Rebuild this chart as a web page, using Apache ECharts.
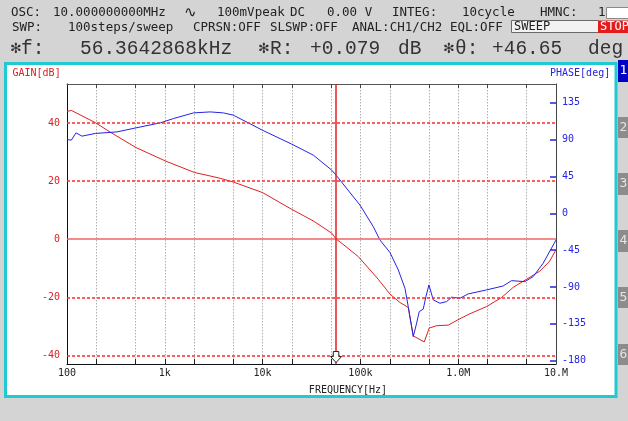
<!DOCTYPE html>
<html>
<head>
<meta charset="utf-8">
<script src="https://cdn.jsdelivr.net/npm/echarts@6/dist/echarts.min.js"></script>
<style>
  html, body { margin: 0; padding: 0; background: #d4d4d4; }
  #chart { width: 628px; height: 421px; }
</style>
</head>
<body>
<div id="chart"></div>
<script>
// Cursor readout
const cursorFreq = 56364.2868;
const cursorGain = 0.079;
const cursorPhase = 46.65;

// Gain trace (CH1/CH2), frequency in Hz and gain in dB
const gainFreq = [100, 110.6, 194.6, 276.9, 506.8, 1009, 2011, 2909, 3681, 5031, 9954, 19880, 33030, 50900,
  cursorFreq, 61890, 95170, 152300, 200650, 253800, 308500, 347100, 449500, 505500, 601700, 790500,
  1.041e6, 1.295e6, 1.951e6, 2.775e6, 3.646e6, 4.996e6, 6.831e6, 8.644e6, 1e7];
const gainDb = [44.0, 44.4, 40.2, 36.9, 31.6, 27.0, 23.0, 21.8, 21.0, 19.7, 16.1, 10.3, 6.3, 2.1,
  cursorGain, -0.9, -6.0, -13.8, -18.9, -21.8, -23.5, -33.3, -35.4, -30.6, -29.8, -29.6,
  -27.4, -25.8, -23.2, -20.1, -16.6, -13.8, -11.0, -7.5, -3.6];

// Phase trace, frequency in Hz and phase in degrees
const phaseFreq = [100, 110.6, 123.6, 142.3, 194.6, 324.2, 506.8, 897.5, 1227, 1965, 2909, 3977, 5031,
  9954, 19880, 33030, 50900, cursorFreq, 99060, 135470, 158560, 200650, 243900, 285500, 308500,
  347100, 376000, 399700, 439000, 467700, 502000, 555400, 650300, 761300, 856300, 1.041e6,
  1.265e6, 1.951e6, 2.883e6, 3.512e6, 4.8e6, 5.836e6, 7.385e6, 1e7];
const phaseDeg = [90.2, 89.4, 98.3, 94.3, 97.6, 99.5, 104.4, 110.5, 115.8, 122.7, 123.9, 122.7, 119.9,
  101.6, 84.5, 71.1, 52.8, cursorPhase, 10.1, -16.3, -32.6, -47.8, -69.1, -91.5, -113.9,
  -150.5, -134, -120, -117, -101.7, -87.4, -105.7, -109.8, -107.8, -102.4, -103.7,
  -98.4, -93.5, -88.7, -82.2, -83.4, -77.3, -61.0, -32.6];

// Axis ticks and labels
const freqLabelValues = [100, 1e3, 1e4, 1e5, 1e6, 1e7];
const freqLabelText = ['100', '1k', '10k', '100k', '1.0M', '10.M'];
const freqGridValues = [200, 500, 1e3, 2e3, 5e3, 1e4, 2e4, 5e4, 1e5, 2e5, 5e5, 1e6, 2e6, 5e6];
const gainTicks = [-40, -20, 0, 20, 40];
const gainDashed = [-40, -20, 20, 40];
const phaseTicks = [-180, -135, -90, -45, 0, 45, 90, 135];

const RED = '#e02020';
const BLUE = '#2424e4';
const MONO = 'DejaVu Sans Mono';

function txt(text, x, y, opts) {
  opts = opts || {};
  return {
    type: 'text', x: x, y: y, z: 10, silent: true,
    style: {
      text: text,
      fill: opts.fill || '#222',
      font: (opts.size || 12.5) + 'px "' + (opts.family || MONO) + '"',
      textAlign: opts.align || 'left',
      textVerticalAlign: 'middle'
    }
  };
}
function box(x, y, w, h, fill, stroke, z) {
  return {
    type: 'rect', z: z == null ? 1 : z, silent: true,
    shape: { x: x, y: y, width: w, height: h },
    style: { fill: fill, stroke: stroke || null, lineWidth: stroke ? 1 : 0 }
  };
}

const L3 = 19.5;  // readout line font size
const L3C = '#333';
const graphics = [
  // white panel with cyan frame
  { type: 'rect', z: -5, silent: true,
    shape: { x: 5.5, y: 63.5, width: 610.5, height: 333 },
    style: { fill: '#ffffff', stroke: '#1fcad2', lineWidth: 3 } },

  // status line 1
  txt('OSC:', 11, 13), txt('10.000000000MHz', 53, 13),
  txt('\u223F', 184, 13, { family: 'DejaVu Sans', size: 15 }),
  txt('100mVpeak', 217, 13), txt('DC', 290, 13), txt('0.00 V', 327, 13),
  txt('INTEG:', 392, 13), txt('10cycle', 462, 13), txt('HMNC:', 540, 13), txt('1', 598, 13),
  box(606.5, 7.5, 24, 11, '#ffffff', '#8a8a8a'),

  // status line 2
  txt('SWP:', 12, 27.5), txt('100steps/sweep', 68, 27.5), txt('CPRSN:OFF', 193, 27.5),
  txt('SLSWP:OFF', 270, 27.5), txt('ANAL:CH1/CH2', 352, 27.5), txt('EQL:OFF', 450, 27.5),
  box(511.5, 20.5, 87, 12, '#f2f2f2', '#6a6a6a'),
  txt('SWEEP', 514, 27, { size: 12 }),
  box(598, 20.5, 30, 12.5, '#e41c1c'),
  txt('STOP', 600, 27, { fill: '#ffffff', size: 12 }),

  // cursor readout line
  txt('\u273B', 10, 49, { family: 'DejaVu Sans', size: 14, fill: L3C }),
  txt('f:', 21, 49, { family: 'Liberation Mono', size: L3, fill: L3C }),
  txt('56.3642868kHz', 80, 49, { family: 'Liberation Mono', size: L3, fill: L3C }),
  txt('\u273B', 258, 49, { family: 'DejaVu Sans', size: 14, fill: L3C }),
  txt('R:', 270, 49, { family: 'Liberation Mono', size: L3, fill: L3C }),
  txt('+0.079', 310, 49, { family: 'Liberation Mono', size: L3, fill: L3C }),
  txt('dB', 398, 49, { family: 'Liberation Mono', size: L3, fill: L3C }),
  txt('\u273B', 443, 49, { family: 'DejaVu Sans', size: 14, fill: L3C }),
  txt('\u03B8:', 455, 49, { family: 'Liberation Mono', size: L3, fill: L3C }),
  txt('+46.65', 492, 49, { family: 'Liberation Mono', size: L3, fill: L3C }),
  txt('deg', 588, 49, { family: 'Liberation Mono', size: L3, fill: L3C }),

  // axis titles
  txt('GAIN[dB]', 12.5, 73, { fill: RED, size: 10 }),
  txt('PHASE[deg]', 550, 73, { fill: BLUE, size: 10 }),
  txt('FREQUENCY[Hz]', 348, 390, { size: 10, align: 'center' }),

  // page tabs
  box(618, 60, 10, 22, '#0000c4'), txt('1', 619.5, 71, { fill: '#ffffff', size: 13 }),
  box(618, 117, 10, 21, '#8c8c8c'), txt('2', 619.5, 127.5, { fill: '#e4e4e4', size: 13 }),
  box(618, 173, 10, 22, '#8c8c8c'), txt('3', 619.5, 184, { fill: '#e4e4e4', size: 13 }),
  box(618, 230, 10, 22, '#8c8c8c'), txt('4', 619.5, 241, { fill: '#e4e4e4', size: 13 }),
  box(618, 287, 10, 21, '#8c8c8c'), txt('5', 619.5, 297.5, { fill: '#e4e4e4', size: 13 }),
  box(618, 344, 10, 21, '#8c8c8c'), txt('6', 619.5, 354.5, { fill: '#e4e4e4', size: 13 })
];

const chart = echarts.init(document.getElementById('chart'), null, { renderer: 'canvas' });

const xBase = {
  type: 'log', logBase: 10, min: 100, max: 1e7, gridIndex: 0
};

// gain reference lines: dashed at +-20/+-40, solid at 0, plus the cursor
const gainLines = gainDashed.map(v => ({
  yAxis: v, lineStyle: { color: '#ff2a2a', width: 1.5, type: [3, 2] }
})).concat([
  { yAxis: 0, lineStyle: { color: '#ee6464', width: 1.5, type: 'solid' } },
  { xAxis: cursorFreq, lineStyle: { color: RED, width: 1.5, type: 'solid' } }
]);

chart.setOption({
  animation: false,
  backgroundColor: '#d4d4d4',
  graphic: { elements: graphics },
  grid: { left: 67, right: 72, top: 84, bottom: 57, containLabel: false },
  xAxis: [
    Object.assign({}, xBase, {
      position: 'bottom',
      axisLine: { show: true, onZero: false, lineStyle: { color: '#111', width: 1 } },
      axisTick: { show: true, inside: true, length: 5, customValues: freqGridValues,
        lineStyle: { color: '#222', width: 1 } },
      axisLabel: {
        show: true, customValues: freqLabelValues, margin: 4,
        color: '#222', fontFamily: MONO, fontSize: 10,
        formatter: function (v) {
          const i = freqLabelValues.indexOf(Math.round(v));
          return i >= 0 ? freqLabelText[i] : '';
        }
      },
      splitLine: { show: true, lineStyle: { color: '#b0b0b0', width: 1, type: [1.5, 1.5] } }
    }),
    Object.assign({}, xBase, {
      position: 'top',
      axisLine: { show: true, onZero: false, lineStyle: { color: '#555', width: 1 } },
      axisTick: { show: true, inside: true, length: 4, customValues: freqGridValues,
        lineStyle: { color: '#444', width: 1 } },
      axisLabel: { show: false },
      splitLine: { show: false }
    })
  ],
  yAxis: [
    {
      type: 'value', min: -43, max: 53.5, position: 'left',
      axisLine: { show: true, onZero: false, lineStyle: { color: '#111', width: 1 } },
      axisTick: { show: false, customValues: gainTicks },
      axisLabel: { customValues: gainTicks, margin: 7, color: RED, fontFamily: MONO, fontSize: 10 },
      splitLine: { show: false }
    },
    {
      type: 'value', min: -184, max: 158, position: 'right',
      axisLine: { show: true, onZero: false, lineStyle: { color: '#444', width: 1 } },
      axisTick: { show: true, inside: true, length: 6, customValues: phaseTicks,
        lineStyle: { color: BLUE, width: 1.5 } },
      axisLabel: { customValues: phaseTicks, margin: 6, color: BLUE, fontFamily: MONO, fontSize: 10 },
      splitLine: { show: false }
    }
  ],
  series: [
    {
      name: 'GAIN', type: 'line', xAxisIndex: 0, yAxisIndex: 0, z: 3,
      data: gainFreq.map((f, i) => [f, gainDb[i]]),
      symbol: 'none', smooth: false,
      lineStyle: { color: RED, width: 1 },
      markLine: {
        silent: true, symbol: ['none', 'none'], label: { show: false },
        data: gainLines
      },
      markPoint: {
        silent: true,
        symbol: 'path://M3,0 L9,0 L9,5 L12,5 L6,11 L0,5 L3,5 Z',
        symbolSize: [11, 11],
        symbolKeepAspect: false,
        itemStyle: { color: '#ffffff', borderColor: '#222', borderWidth: 1 },
        label: { show: false },
        data: [{ coord: [cursorFreq, -40.6] }]
      }
    },
    {
      name: 'PHASE', type: 'line', xAxisIndex: 0, yAxisIndex: 1, z: 4,
      data: phaseFreq.map((f, i) => [f, phaseDeg[i]]),
      symbol: 'none', smooth: false,
      lineStyle: { color: BLUE, width: 1 }
    }
  ]
});
</script>
</body>
</html>
